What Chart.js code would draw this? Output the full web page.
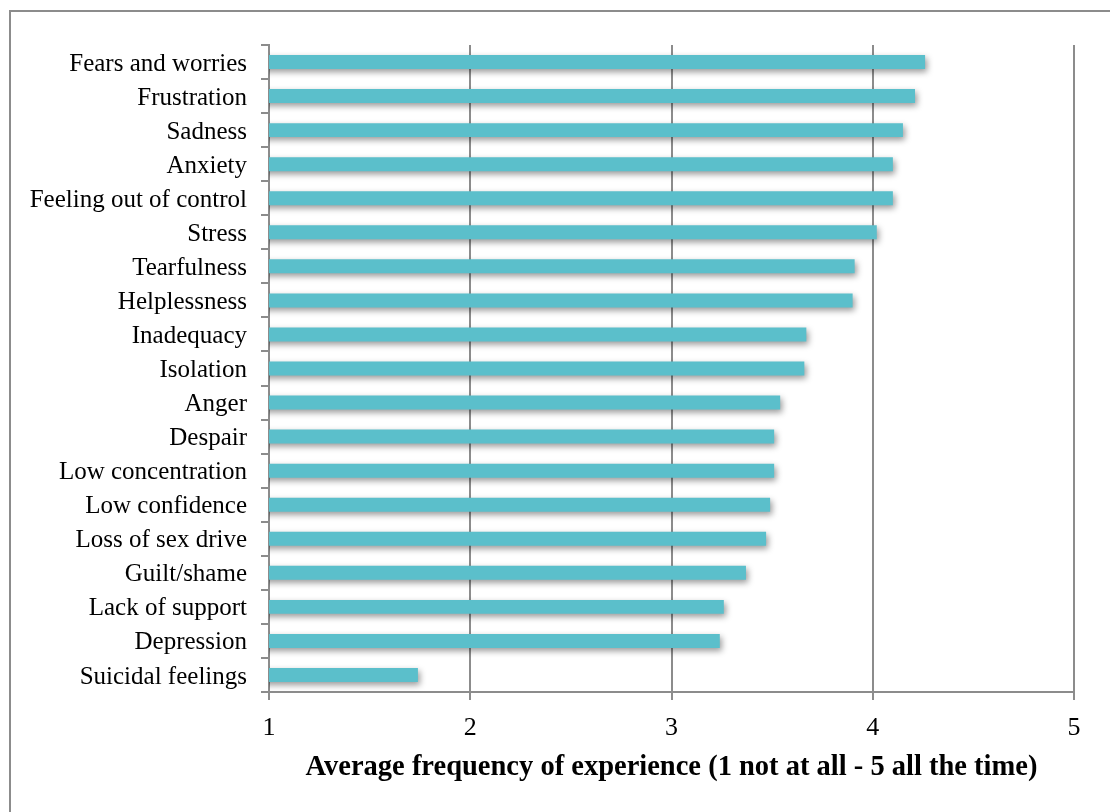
<!DOCTYPE html>
<html>
<head>
<meta charset="utf-8">
<script src="https://cdn.jsdelivr.net/npm/chart.js@4.4.1/dist/chart.umd.min.js"></script>
<style>
  html, body { margin: 0; padding: 0; background: #ffffff; }
  #wrap { width: 1110px; height: 812px; position: relative; }
  canvas { display: block; }
</style>
</head>
<body>
<div id="wrap"><canvas id="chart" width="1110" height="812"></canvas></div>
<script>
// Emotions reported, listed top to bottom
const categories = [
  "Fears and worries",
  "Frustration",
  "Sadness",
  "Anxiety",
  "Feeling out of control",
  "Stress",
  "Tearfulness",
  "Helplessness",
  "Inadequacy",
  "Isolation",
  "Anger",
  "Despair",
  "Low concentration",
  "Low confidence",
  "Loss of sex drive",
  "Guilt/shame",
  "Lack of support",
  "Depression",
  "Suicidal feelings"
];

// Average frequency score for each emotion
const averageFrequency = [
  4.26, 4.21, 4.15, 4.10, 4.10, 4.02, 3.91, 3.90, 3.67, 3.66,
  3.54, 3.51, 3.51, 3.49, 3.47, 3.37, 3.26, 3.24, 1.74
];

// Scale range and labels
const xTickValues = [1, 2, 3, 4, 5];
const xAxisTitle = "Average frequency of experience (1 not at all - 5 all the time)";

const FONT_FAMILY = "'Liberation Serif', 'Times New Roman', serif";
const LINE_GREY = "#8c8c8c";
const BAR_COLOUR = "#5bbfcb";

// White page with the frame drawn along the top and left edges
const framePlugin = {
  id: "frame",
  beforeDraw(chart) {
    const ctx = chart.ctx;
    ctx.save();
    ctx.fillStyle = "#ffffff";
    ctx.fillRect(0, 0, chart.width, chart.height);
    ctx.strokeStyle = LINE_GREY;
    ctx.lineWidth = 2;
    ctx.strokeRect(10, 11, chart.width + 100, chart.height + 100);
    ctx.restore();
  }
};

// Soft drop shadow under each bar
const barShadowPlugin = {
  id: "barShadow",
  beforeDatasetDraw(chart) {
    const ctx = chart.ctx;
    ctx.save();
    ctx.shadowColor = "rgba(0, 0, 0, 0.4)";
    ctx.shadowBlur = 6;
    ctx.shadowOffsetX = 2;
    ctx.shadowOffsetY = 3;
  },
  afterDatasetDraw(chart) {
    chart.ctx.restore();
  }
};

function build() {
  new Chart(document.getElementById("chart"), {
    type: "bar",
    data: {
      labels: categories,
      datasets: [{
        data: averageFrequency,
        backgroundColor: BAR_COLOUR,
        borderWidth: 0,
        barPercentage: 0.41,
        categoryPercentage: 1.0
      }]
    },
    options: {
      indexAxis: "y",
      responsive: false,
      animation: false,
      devicePixelRatio: 1,
      layout: { padding: { top: 45, right: 36, left: 0, bottom: 0 } },
      plugins: {
        legend: { display: false },
        tooltip: { enabled: false },
        title: { display: false }
      },
      scales: {
        x: {
          type: "linear",
          position: "bottom",
          min: xTickValues[0],
          max: xTickValues[xTickValues.length - 1],
          afterBuildTicks(scale) {
            scale.ticks = xTickValues.map(v => ({ value: v }));
          },
          afterFit(scale) { scale.height = 120; },
          ticks: {
            color: "#000000",
            font: { family: FONT_FAMILY, size: 26 },
            padding: 13
          },
          grid: {
            color: LINE_GREY,
            lineWidth: 2,
            tickLength: 8,
            drawTicks: true
          },
          border: { display: true, color: LINE_GREY, width: 2 },
          title: {
            display: true,
            text: xAxisTitle,
            color: "#000000",
            font: { family: FONT_FAMILY, size: 28.5, weight: "bold" },
            padding: { top: 0, bottom: 27 }
          }
        },
        y: {
          type: "category",
          afterFit(scale) { scale.width = 269; },
          ticks: {
            color: "#000000",
            font: { family: FONT_FAMILY, size: 25 },
            padding: 14,
            labelOffset: 2,
            autoSkip: false
          },
          grid: {
            offset: true,
            drawOnChartArea: false,
            drawTicks: true,
            tickLength: 8,
            color: LINE_GREY,
            lineWidth: 2
          },
          border: { display: true, color: LINE_GREY, width: 2 }
        }
      }
    },
    plugins: [framePlugin, barShadowPlugin]
  });
}

if (document.fonts && document.fonts.load) {
  Promise.all([
    document.fonts.load("25px 'Liberation Serif'"),
    document.fonts.load("bold 28px 'Liberation Serif'")
  ]).then(build, build);
} else {
  build();
}
</script>
</body>
</html>
